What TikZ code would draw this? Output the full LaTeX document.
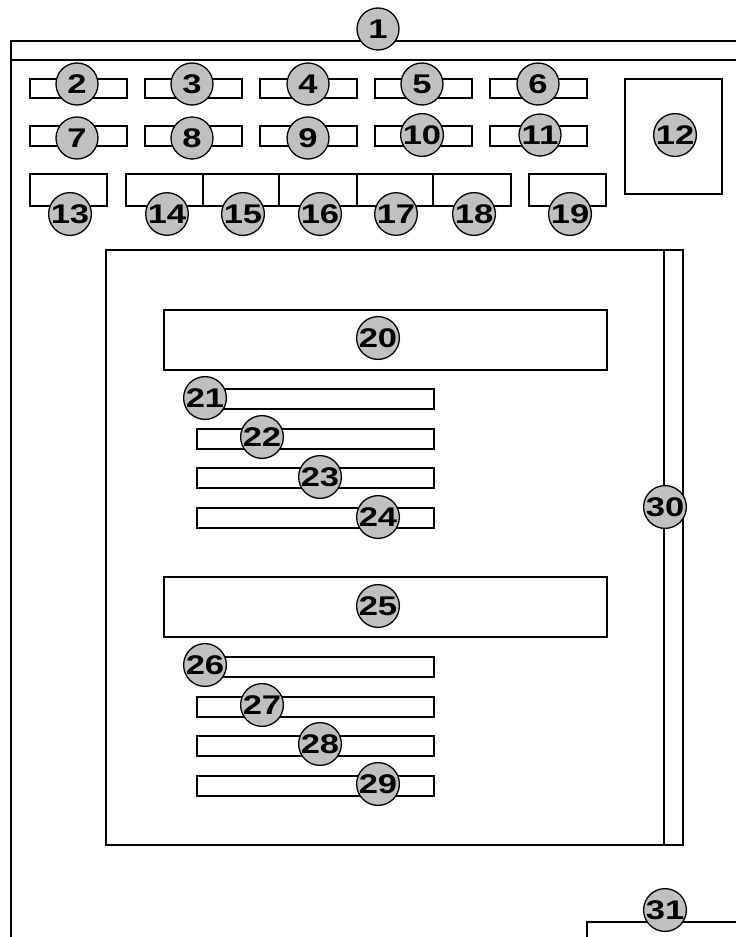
\documentclass[tikz,border=0pt]{standalone}
\usepackage{fontspec}
\setmainfont{Liberation Sans}
\definecolor{circfill}{RGB}{192,192,192}
\tikzset{
  lbl/.style={circle, draw=black, line width=1.3pt, fill=circfill, minimum size=42pt, inner sep=0pt,
    font=\fontsize{27}{27}\selectfont\bfseries},
  box/.style={draw=black, line width=1.5pt},
}
\newcommand{\numtxt}[1]{\scalebox{1.28}[1]{#1}}
\begin{document}
\begin{tikzpicture}[x=1pt,y=-1pt]
\useasboundingbox (0,0) rectangle (736,937);
% frame
\draw[box] (736,41) -- (11,41) -- (11,937);
\draw[box] (11,60) -- (736,60);
% row 1 and row 2 rectangles
\foreach \x in {30,145,260,375,490} {
  \draw[box] (\x,79) rectangle ++(97,19);
  \draw[box] (\x,126) rectangle ++(97,20);
}
% box 12
\draw[box] (625,79) rectangle (722,194);
% row 3
\draw[box] (30,174) rectangle (107,206);
\draw[box] (126,174) rectangle (511,206);
\foreach \x in {203,279,357,433} \draw[box] (\x,174) -- (\x,206);
\draw[box] (529,174) rectangle (606,206);
% main box
\draw[box] (106,250) rectangle (683,845);
\draw[box] (664,250) -- (664,845);
% box 20 and bars
\draw[box] (164,310) rectangle (607,370);
\foreach \y in {389,429,468,508} \draw[box] (197,\y) rectangle (434,\y+20);
% box 25 and bars
\draw[box] (164,577) rectangle (607,637);
\foreach \y in {657,697,736,776} \draw[box] (197,\y) rectangle (434,\y+20);
% bottom right shape
\draw[box] (587,937) -- (587,922) -- (736,922);
% labels
\node[lbl] (c1) at (378,29) {\numtxt{1}};
\node[lbl] (c2) at (77,84) {\numtxt{2}};
\node[lbl] (c3) at (192,84) {\numtxt{3}};
\node[lbl] (c4) at (308,84) {\numtxt{4}};
\node[lbl] (c5) at (422,84) {\numtxt{5}};
\node[lbl] (c6) at (538,84) {\numtxt{6}};
\node[lbl] (c7) at (77,138) {\numtxt{7}};
\node[lbl] (c8) at (192,138) {\numtxt{8}};
\node[lbl] (c9) at (308,138) {\numtxt{9}};
\node[lbl] (c10) at (422,135) {\numtxt{10}};
\node[lbl] (c11) at (540,135) {\numtxt{11}};
\node[lbl] (c12) at (675,135) {\numtxt{12}};
\node[lbl] (c13) at (70,214) {\numtxt{13}};
\node[lbl] (c14) at (167,214) {\numtxt{14}};
\node[lbl] (c15) at (243,214) {\numtxt{15}};
\node[lbl] (c16) at (320,214) {\numtxt{16}};
\node[lbl] (c17) at (396,214) {\numtxt{17}};
\node[lbl] (c18) at (474,214) {\numtxt{18}};
\node[lbl] (c19) at (570,214) {\numtxt{19}};
\node[lbl] (c20) at (378,338) {\numtxt{20}};
\node[lbl] (c21) at (205,398) {\numtxt{21}};
\node[lbl] (c22) at (262,437) {\numtxt{22}};
\node[lbl] (c23) at (320,477) {\numtxt{23}};
\node[lbl] (c24) at (378,517) {\numtxt{24}};
\node[lbl] (c25) at (378,606) {\numtxt{25}};
\node[lbl] (c26) at (205,665) {\numtxt{26}};
\node[lbl] (c27) at (262,705) {\numtxt{27}};
\node[lbl] (c28) at (320,744) {\numtxt{28}};
\node[lbl] (c29) at (378,784) {\numtxt{29}};
\node[lbl] (c30) at (665,507) {\numtxt{30}};
\node[lbl] (c31) at (665,910) {\numtxt{31}};
\end{tikzpicture}
\end{document}
